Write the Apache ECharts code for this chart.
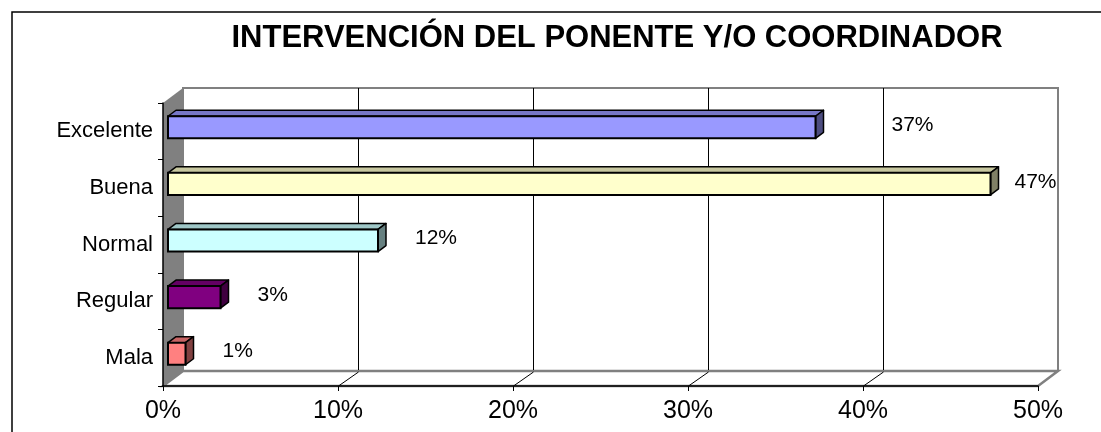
<!DOCTYPE html>
<html>
<head>
<meta charset="utf-8">
<script src="https://cdn.jsdelivr.net/npm/echarts@6/dist/echarts.min.js"></script>
<style>
  html, body { margin: 0; padding: 0; background: #fff; }
  #chart { width: 1101px; height: 432px; }
</style>
</head>
<body>
<div id="chart"></div>
<script>
const titleText = 'INTERVENCIÓN DEL PONENTE Y/O COORDINADOR';
const categories = ['Excelente', 'Buena', 'Normal', 'Regular', 'Mala'];
const values = [37, 47, 12, 3, 1];
const barColors = ['#9999FF', '#FFFFCC', '#CCFFFF', '#800080', '#FF8080'];
const xTickValues = [0, 10, 20, 30, 40, 50];

// style / layout
const FONT = 'Arial, "Liberation Sans", sans-serif';
const WALL = [20, -15];      // depth of the 3d box
const BAR_FRONT = [5, -4];   // bar front face offset from front plane
const BAR_DEPTH = [8, -6];
const LABEL_GAP = 37;
const labelGapFor = { Excelente: 76, Buena: 24 };

function shade(hex, k) {
  const n = parseInt(hex.slice(1), 16);
  const r = Math.round(((n >> 16) & 255) * k);
  const g = Math.round(((n >> 8) & 255) * k);
  const b = Math.round((n & 255) * k);
  return 'rgb(' + r + ',' + g + ',' + b + ')';
}

function renderWalls(params, api) {
  const cs = params.coordSys;
  const x0 = cs.x, y0 = cs.y, x1 = cs.x + cs.width, y1 = cs.y + cs.height;
  const dx = WALL[0], dy = WALL[1];
  const children = [];
  // back wall
  children.push({
    type: 'rect',
    shape: { x: x0 + dx, y: y0 + dy, width: cs.width, height: cs.height },
    style: { fill: '#fff', stroke: '#808080', lineWidth: 2 }
  });
  // floor
  children.push({
    type: 'polygon',
    shape: { points: [[x0, y1], [x0 + dx, y1 + dy], [x1 + dx, y1 + dy], [x1, y1]] },
    style: { fill: '#fff', stroke: '#808080', lineWidth: 2.5 }
  });
  // grid lines on wall and floor
  xTickValues.slice(1, -1).forEach(function (v) {
    const x = Math.round(api.coord([v, 0])[0]) + 0.5;
    children.push({
      type: 'line',
      shape: { x1: x + dx, y1: y0 + dy, x2: x + dx, y2: y1 + dy - 1 },
      style: { stroke: '#000', lineWidth: 1 }
    });
    children.push({
      type: 'line',
      shape: { x1: x, y1: y1, x2: x + dx, y2: y1 + dy + 1 },
      style: { stroke: '#000', lineWidth: 1 }
    });
  });
  // left side wall
  children.push({
    type: 'polygon',
    shape: { points: [[x0, y0], [x0 + dx, y0 + dy], [x0 + dx, y1 + dy], [x0, y1]] },
    style: { fill: '#808080', stroke: null }
  });
  return { type: 'group', children: children };
}

function renderBar(params, api) {
  const idx = api.value(1);
  const val = api.value(0);
  const end = api.coord([val, idx]);
  const start = api.coord([0, idx]);
  const band = api.size([0, 1])[1];
  const h = band * 0.39;
  const fx0 = start[0] + BAR_FRONT[0];
  const fx1 = end[0] + BAR_FRONT[0];
  const fy0 = end[1] + BAR_FRONT[1] - h / 2;
  const fy1 = fy0 + h;
  const dx = BAR_DEPTH[0], dy = BAR_DEPTH[1];
  const color = barColors[idx];
  const name = categories[idx];
  const gap = labelGapFor[name] !== undefined ? labelGapFor[name] : LABEL_GAP;
  return {
    type: 'group',
    children: [
      {
        type: 'polygon',
        shape: { points: [[fx0, fy0], [fx0 + dx, fy0 + dy], [fx1 + dx, fy0 + dy], [fx1, fy0]] },
        style: { fill: shade(color, 0.78), stroke: '#000', lineWidth: 1.5, lineJoin: 'round' }
      },
      {
        type: 'polygon',
        shape: { points: [[fx1, fy0], [fx1 + dx, fy0 + dy], [fx1 + dx, fy1 + dy], [fx1, fy1]] },
        style: { fill: shade(color, 0.5), stroke: '#000', lineWidth: 1.5, lineJoin: 'round' }
      },
      {
        type: 'rect',
        shape: { x: fx0, y: fy0, width: fx1 - fx0, height: h },
        style: { fill: color, stroke: '#000', lineWidth: 2 }
      },
      {
        type: 'text',
        style: {
          text: values[idx] + '%',
          x: fx1 + gap,
          y: (fy0 + fy1) / 2 - 2,
          fill: '#000',
          fontSize: 21,
          fontFamily: FONT,
          align: 'left',
          verticalAlign: 'middle'
        }
      }
    ]
  };
}

const chart = echarts.init(document.getElementById('chart'), null, { renderer: 'canvas' });

chart.setOption({
  animation: false,
  backgroundColor: '#fff',
  graphic: [
    {
      type: 'rect',
      shape: { x: 12, y: 12, width: 1100, height: 440 },
      style: { fill: null, stroke: '#000', lineWidth: 1.5 },
      z: 100
    },
    {
      type: 'text',
      style: {
        text: titleText,
        x: 617,
        y: 38,
        fill: '#000',
        font: 'bold 31px ' + FONT,
        align: 'center',
        verticalAlign: 'middle'
      }
    }
  ],
  grid: {
    left: 163,
    right: 63,
    top: 103,
    bottom: 46,
    containLabel: false,
    outerBoundsMode: 'none'
  },
  xAxis: {
    type: 'value',
    min: 0,
    max: 50,
    interval: 10,
    z: 5,
    axisLine: { show: true, lineStyle: { color: '#000', width: 1.5 } },
    axisTick: { show: true, length: 5, lineStyle: { color: '#000', width: 1 } },
    splitLine: { show: false },
    axisLabel: {
      formatter: '{value}%',
      fontSize: 25,
      fontFamily: FONT,
      color: '#000',
      margin: 13
    }
  },
  yAxis: {
    type: 'category',
    data: categories,
    inverse: true,
    z: 5,
    axisLine: { show: true, lineStyle: { color: '#000', width: 1.5 } },
    axisTick: { show: true, length: 5, lineStyle: { color: '#000', width: 1 } },
    axisLabel: {
      fontSize: 22,
      fontFamily: FONT,
      color: '#000',
      margin: 10
    }
  },
  series: [
    {
      type: 'custom',
      name: 'walls',
      z: 1,
      silent: true,
      renderItem: renderWalls,
      data: [[0, 0]],
      encode: { x: 0, y: 1 }
    },
    {
      type: 'custom',
      name: 'Intervención',
      z: 3,
      renderItem: renderBar,
      data: categories.map(function (c, i) { return [values[i], i]; }),
      encode: { x: 0, y: 1 }
    }
  ]
});
</script>
</body>
</html>
